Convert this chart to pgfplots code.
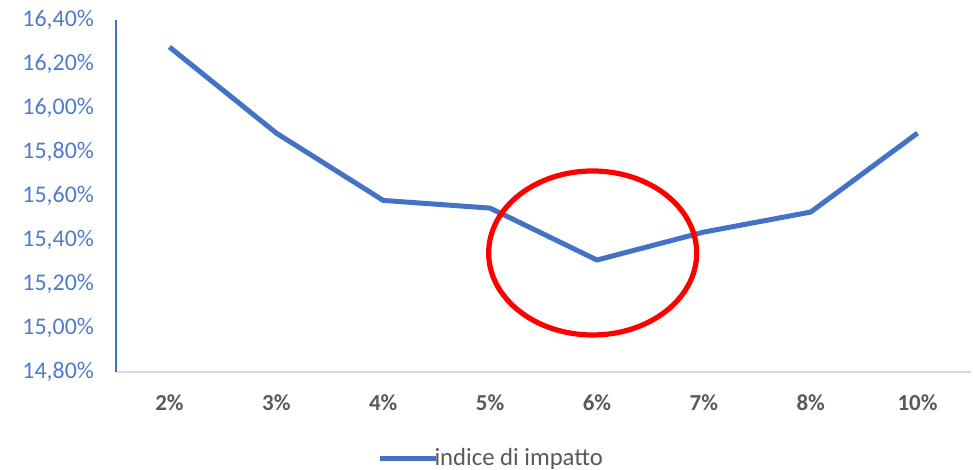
\documentclass[border=0pt]{standalone}
\usepackage{pgfplots}
\pgfplotsset{compat=1.18}
\usepackage{fontspec}
\setmainfont{Carlito}
\definecolor{lineblue}{HTML}{4472C4}
\definecolor{labblue}{HTML}{4F7BCB}
\definecolor{labgray}{HTML}{595959}
\definecolor{axgray}{HTML}{D9D9D9}
\begin{document}
\begin{tikzpicture}
\begin{axis}[
  name=ax,
  scale only axis,
  width=427.5bp, height=176bp,
  xmin=-0.5, xmax=7.5,
  ymin=14.8, ymax=16.4,
  ytick={14.8,15.0,15.2,15.4,15.6,15.8,16.0,16.2,16.4},
  xtick={0,...,7},
  xticklabels={2\%,3\%,4\%,5\%,6\%,7\%,8\%,10\%},
  /pgf/number format/assume math mode=true,
  yticklabel={\pgfmathprintnumber[fixed,fixed zerofill,precision=2,use comma]{\tick}\%},
  yticklabel style={font=\fontsize{12}{14}\selectfont, text=labblue, xshift=-7.5bp},
  xticklabel style={font=\fontsize{11.5}{13}\selectfont\bfseries, text=labgray, yshift=-8bp},
  major tick length=0pt,
  axis x line=bottom, axis y line=left,
  x axis line style={-, draw=axgray, line width=0.6bp},
  y axis line style={-, draw=lineblue, line width=1bp},
  clip=false,
  legend style={draw=none, at={(0.44,-0.245)}, anchor=center, font=\fontsize{12.4}{14}\selectfont, text=labgray, inner sep=0pt,
    /tikz/every even column/.append style={column sep=0pt}},
  legend image code/.code={\draw[#1] (0bp,0bp) -- (28bp,0bp);},
  legend cell align=left,
]
\addplot[lineblue, line width=2.5bp, line join=round] coordinates {
(0,16.277) (1,15.886) (2,15.58) (3,15.545) (4,15.309) (5,15.436) (6,15.527) (7,15.886)
};
\addlegendentry[text=labgray]{\hspace{-4bp}indice di impatto}
\draw[red, line width=2.6bp] (axis cs:3.96,15.341) ellipse [x radius=52bp, y radius=41bp];
\end{axis}
\pgfresetboundingbox
\path[use as bounding box] ([xshift=-58bp,yshift=-49bp]ax.south west) rectangle ([xshift=428.5bp,yshift=10bp]ax.north west);
\end{tikzpicture}
\end{document}
